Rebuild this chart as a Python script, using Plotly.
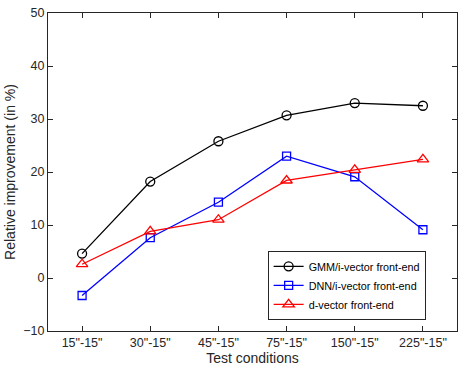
import plotly.graph_objects as go

# Conditions de test et améliorations relatives (en %)
conditions = ['15"-15"', '30"-15"', '45"-15"', '75"-15"', '150"-15"', '225"-15"']
gmm_ivector = [4.6, 18.2, 25.8, 30.7, 33.0, 32.5]
dnn_ivector = [-3.3, 7.6, 14.3, 23.0, 19.1, 9.1]
d_vector = [2.6, 8.8, 11.0, 18.4, 20.4, 22.4]

fig = go.Figure()

series = [
    ("GMM/i-vector front-end", gmm_ivector, "black", "circle-open", 9),
    ("DNN/i-vector front-end", dnn_ivector, "blue", "square-open", 8),
    ("d-vector front-end", d_vector, "red", "triangle-up-open", 10),
]
for name, vals, color, symbol, size in series:
    fig.add_trace(go.Scatter(
        x=conditions, y=vals, mode="lines+markers", name=name,
        line=dict(color=color, width=1.3),
        marker=dict(symbol=symbol, size=size, color=color, line=dict(color=color, width=1.3)),
    ))

axis_common = dict(
    showgrid=False, zeroline=False, showline=True, linecolor="#262626", linewidth=1,
    mirror="ticks", ticks="inside", ticklen=5, tickcolor="#262626",
    tickfont=dict(size=12.5, color="#262626"),
)

fig.update_layout(
    width=464, height=369,
    margin=dict(l=48, r=6, t=10, b=36),
    plot_bgcolor="white", paper_bgcolor="white",
    font=dict(family="Liberation Sans, Arial", color="#262626"),
    xaxis=dict(axis_common, type="category", range=[-0.5, 5.5],
               title=dict(text="Test conditions", font=dict(size=14), standoff=3)),
    yaxis=dict(axis_common, range=[-10, 50], dtick=10,
               title=dict(text="Relative improvement (in %)", font=dict(size=14), standoff=4)),
    legend=dict(x=0.537, y=0.252, xanchor="left", yanchor="top",
                bgcolor="white", bordercolor="#262626", borderwidth=1,
                font=dict(size=10.8, color="black"), tracegroupgap=0,
                itemwidth=30),
    showlegend=True,
)

# pas de marge autour de la figure dans la page
fig.write_html("out.html", config={"displayModeBar": False},
               post_script="document.body.style.margin='0px';")
